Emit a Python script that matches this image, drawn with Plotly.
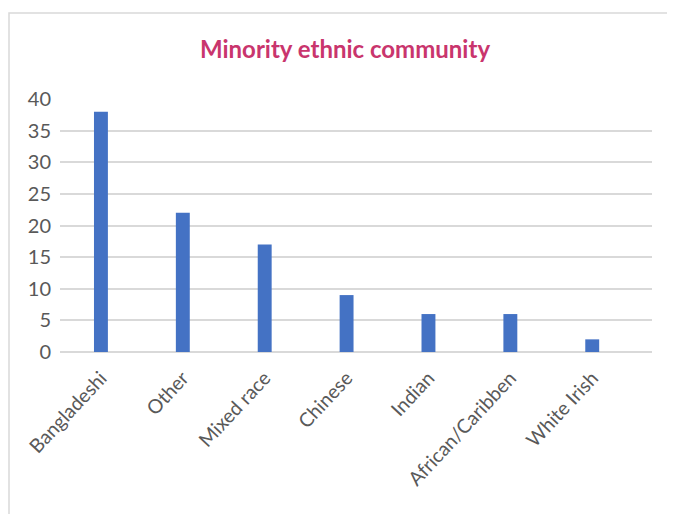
import plotly.graph_objects as go

categories = ["Bangladeshi", "Other", "Mixed race", "Chinese", "Indian", "African/Caribben", "White Irish"]
values = [38, 22, 17, 9, 6, 6, 2]
y_ticks = [0, 5, 10, 15, 20, 25, 30, 35, 40]

OFF = 8  # page body margin
W, H = 675 - OFF, 514 - OFF
L, R, T, B = 60 - OFF, 652 - OFF, 99 - OFF, 352 - OFF

fig = go.Figure(go.Bar(x=categories, y=values, marker_color="#4472C4", marker_line_width=0, width=0.17))

fig.update_layout(
    width=W, height=H,
    margin=dict(l=L, r=W - R, t=T, b=H - B),
    paper_bgcolor="white", plot_bgcolor="white",
    showlegend=False,
    title=dict(text="<b>Minority ethnic community</b>", x=(345 - OFF) / W, xanchor="center",
               y=1 - (50 - OFF) / H, yanchor="middle",
               font=dict(family="Lato", size=24, color="#C9356D")),
    font=dict(family="Lato", color="#595959"),
)
fig.update_xaxes(tickangle=-47, tickfont=dict(size=19.5, color="#595959"), showline=False, showgrid=False,
                 range=[-0.5, 6.73],
                 ticks="outside", ticklen=6, tickcolor="rgba(0,0,0,0)")
fig.update_yaxes(range=[0, 40], tickvals=y_ticks, tickfont=dict(size=20, color="#595959"),
                 showgrid=True, gridcolor="#D9D9D9", gridwidth=1.5, zeroline=True, zerolinecolor="#D9D9D9", zerolinewidth=1.5,
                 showline=False, ticks="", ticklabelstandoff=8)

fig.add_shape(type="rect", xref="paper", yref="paper",
              x0=(9 - 60) / 592, x1=1.2, y0=-0.8, y1=(352 - 13) / 253,
              line=dict(color="#D9D9D9", width=1.5), fillcolor="rgba(0,0,0,0)", layer="below")

fig.write_html("out.html")
